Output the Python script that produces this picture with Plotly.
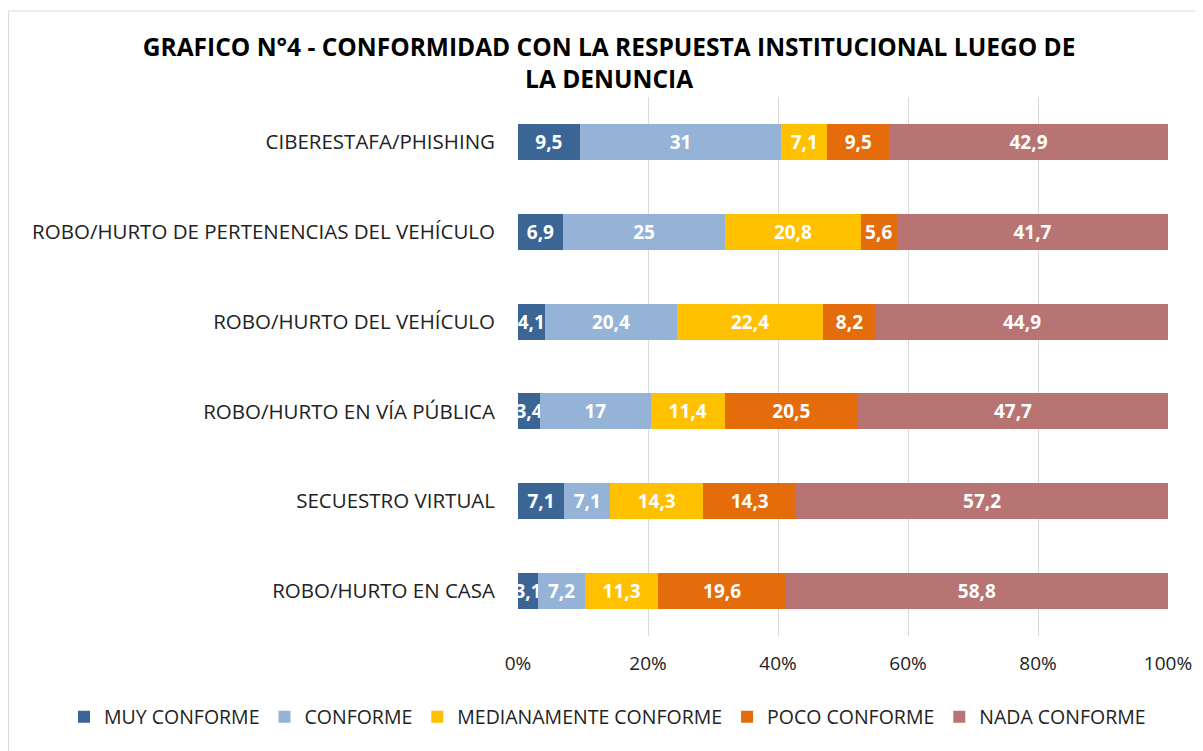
import plotly.graph_objects as go

categories = [
    "CIBERESTAFA/PHISHING",
    "ROBO/HURTO DE PERTENENCIAS DEL VEHÍCULO",
    "ROBO/HURTO DEL VEHÍCULO",
    "ROBO/HURTO EN VÍA PÚBLICA",
    "SECUESTRO VIRTUAL",
    "ROBO/HURTO EN CASA",
]
muy_conforme = [9.5, 6.9, 4.1, 3.4, 7.1, 3.1]
conforme = [31, 25, 20.4, 17, 7.1, 7.2]
medianamente = [7.1, 20.8, 22.4, 11.4, 14.3, 11.3]
poco = [9.5, 5.6, 8.2, 20.5, 14.3, 19.6]
nada = [42.9, 41.7, 44.9, 47.7, 57.2, 58.8]

series = [
    ("MUY CONFORME", muy_conforme, "#3a6595"),
    ("CONFORME", conforme, "#95b3d7"),
    ("MEDIANAMENTE CONFORME", medianamente, "#ffc000"),
    ("POCO CONFORME", poco, "#e46c0a"),
    ("NADA CONFORME", nada, "#b87472"),
]
tick_vals = [0, 20, 40, 60, 80, 100]
tick_text = ["0%", "20%", "40%", "60%", "80%", "100%"]

FONT = "Open Sans"

fig = go.Figure()
for name, vals, color in series:
    fig.add_trace(go.Bar(
        y=categories, x=vals, name=name, orientation="h",
        marker=dict(color=color, line=dict(width=0)),
        text=[f"{v:g}".replace(".", ",") for v in vals],
        textposition="inside", insidetextanchor="middle", textangle=0,
        textfont=dict(color="white", size=19, family=FONT, weight="bold"),
        constraintext="none", cliponaxis=False,
    ))

# page body has an 8px margin; figure is sized/offset accordingly
W, H = 1195, 743
L, R, T, B = 510, 35, 89, 115
PW = W - L - R
PH = H - T - B

fig.update_layout(
    width=W, height=H,
    barmode="stack", bargap=0.6,
    margin=dict(l=L, r=R, t=T, b=B, autoexpand=False),
    paper_bgcolor="white", plot_bgcolor="white",
    font=dict(family=FONT, size=19, color="#222"),
    uniformtext=dict(minsize=19, mode="show"),
    title=dict(
        text="GRAFICO N°4 - CONFORMIDAD CON LA RESPUESTA INSTITUCIONAL LUEGO DE<br>LA DENUNCIA",
        x=0.503, xref="container", xanchor="center",
        y=0.935, yref="container", yanchor="top",
        font=dict(family=FONT, size=24.5, color="black", weight="bold"),
    ),
    legend=dict(
        orientation="h", x=(56 - L) / PW, xref="paper", xanchor="left",
        y=-(717 - 636) / PH, yref="paper", yanchor="middle",
        font=dict(size=19.5, color="#222"), traceorder="normal",
        itemwidth=30, tracegroupgap=0,
    ),
    xaxis=dict(
        range=[0, 100], tickvals=tick_vals, ticktext=tick_text,
        showgrid=True, gridcolor="#d9d9d9", gridwidth=1,
        zeroline=False, showline=False, ticks="",
        tickfont=dict(size=19, color="#222"),
        ticklabelstandoff=14,
    ),
    yaxis=dict(
        autorange="reversed", showgrid=False, showline=False,
        ticks="", tickfont=dict(size=20.5, color="#222"),
        ticklabelstandoff=22,
    ),
    shapes=[dict(
        type="rect", xref="paper", yref="paper",
        x0=(0.5 - L) / PW, x1=(W + 20 - L) / PW,
        y0=-1.0, y1=(H - B - 3) / PH,
        line=dict(color="#d9d9d9", width=1), fillcolor="rgba(0,0,0,0)",
        layer="below",
    )],
)

fig.write_html("out.html")
